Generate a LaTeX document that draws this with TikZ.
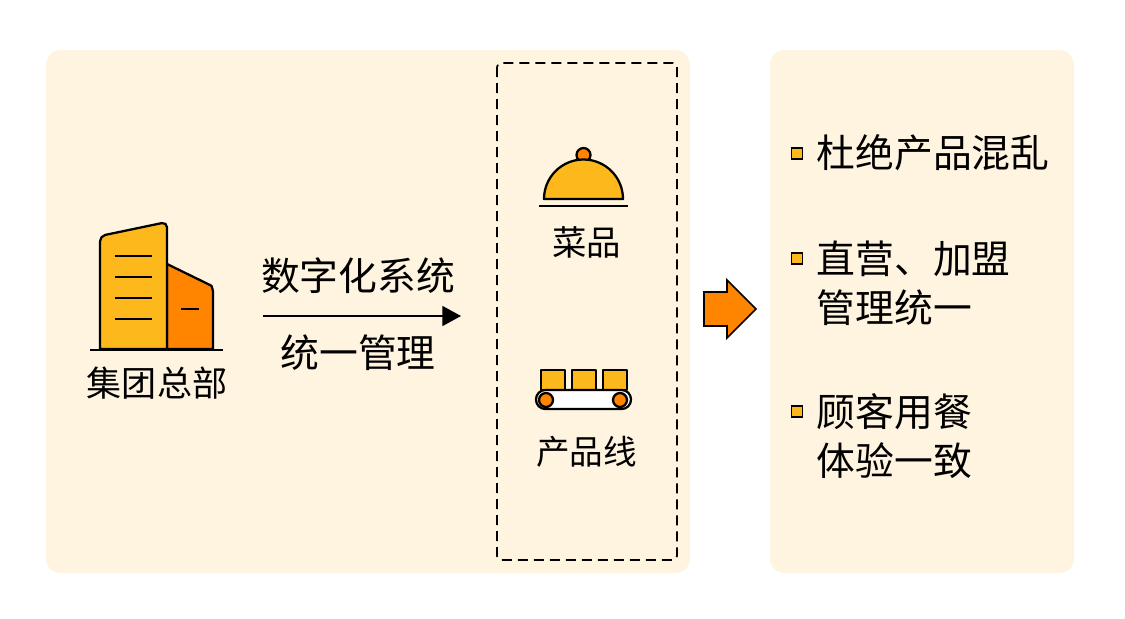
\documentclass[tikz,border=0pt]{standalone}
\usepackage{fontspec}
\setmainfont{Noto Sans CJK SC}
\usetikzlibrary{arrows.meta}
\definecolor{panelcream}{HTML}{FFF4E0}
\definecolor{iconyellow}{HTML}{FDB81C}
\definecolor{iconorange}{HTML}{FF8500}
\begin{document}
\begin{tikzpicture}[x=0.75pt,y=-0.75pt]
\tikzstyle{panel}=[fill=panelcream,draw=none,rounded corners=11pt]
\tikzstyle{outline}=[draw=black,line width=1.7pt,line join=round]
\tikzstyle{thinline}=[draw=black,line width=1.3pt]
\tikzstyle{bigtext}=[inner sep=0pt,font=\fontsize{29.1pt}{36.8pt}\selectfont,align=left]
\tikzstyle{smalltext}=[inner sep=0pt,font=\fontsize{26.3pt}{32pt}\selectfont]
\tikzstyle{bullet}=[rectangle,fill=iconyellow,draw=black,line width=1.1pt,minimum size=8pt,inner sep=0pt]

\useasboundingbox (0,0) rectangle (1125,618);
\fill[white] (0,0) rectangle (1125,618);
\path[panel] (46,50) rectangle (690,573);
\path[panel] (770,50) rectangle (1074,573);
\draw[black,line width=1.3pt,dash pattern=on 7.5pt off 4.5pt,rounded corners=3pt] (497,63) rectangle (677,560);

\draw[outline,fill=iconorange] (167,264) -- (210,285) to[out=25,in=-90] (213,291) -- (213,349) -- (167,349) -- cycle;
\draw[outline,fill=iconyellow] (100,349) [rounded corners=4pt] -- (100,236) -- (167,222) [sharp corners] -- (167,349) -- cycle;
\foreach \y in {256,277,298,319} \draw[thinline] (115,\y) -- (152,\y);
\draw[thinline] (181,309) -- (199,309);
\draw[thinline] (90,350) -- (223,350);
\node[smalltext](Headquarters) at (157,383){集团总部};

\node[bigtext](DigitalSystem) at (358,276){数字化系统};
\coordinate (ArrowStart) at (263,316);
\coordinate (ArrowEnd) at (461,316);
\draw[black,line width=1.2pt,-{Triangle[length=14pt,width=15pt]}] (ArrowStart) -- (ArrowEnd);
\node[bigtext](UnifiedManagement) at (358,353){统一管理};

\draw[outline,fill=iconorange] (583.5,155) circle (7);
\draw[outline,fill=iconyellow] (544,199) arc (180:360:39.5) -- cycle;
\draw[thinline] (539,206) -- (628,206);
\node[smalltext,font=\fontsize{25.8pt}{32pt}\selectfont](Dishes) at (586.5,242){菜品};

\foreach \x in {541,572,603} \draw[outline,fill=iconyellow] (\x,370) rectangle (\x+24,390);
\draw[outline,fill=white,rounded corners=7pt] (536,390) rectangle (631,409);
\draw[outline,fill=iconorange] (546,400) circle (7);
\draw[outline,fill=iconorange] (620,400) circle (7);
\node[smalltext,font=\fontsize{25.2pt}{32pt}\selectfont](ProductLine) at (586.5,452){产品线};

\draw[outline,fill=iconorange,line width=1.3pt,line join=miter] (704,292) -- (727,292) -- (727,280) -- (756,309) -- (727,338) -- (727,326) -- (704,326) -- cycle;

\node[bullet](BulletOne) at (797,153.5){};
\node[bigtext,anchor=west](ItemOne) at (816.5,153){杜绝产品混乱};
\node[bullet](BulletTwo) at (797,258.5){};
\node[bigtext,anchor=west](ItemTwo) at (816.5,283){直营、加盟\\管理统一};
\node[bullet](BulletThree) at (797,411.5){};
\node[bigtext,anchor=west](ItemThree) at (816.5,436){顾客用餐\\体验一致};

\end{tikzpicture}
\end{document}
